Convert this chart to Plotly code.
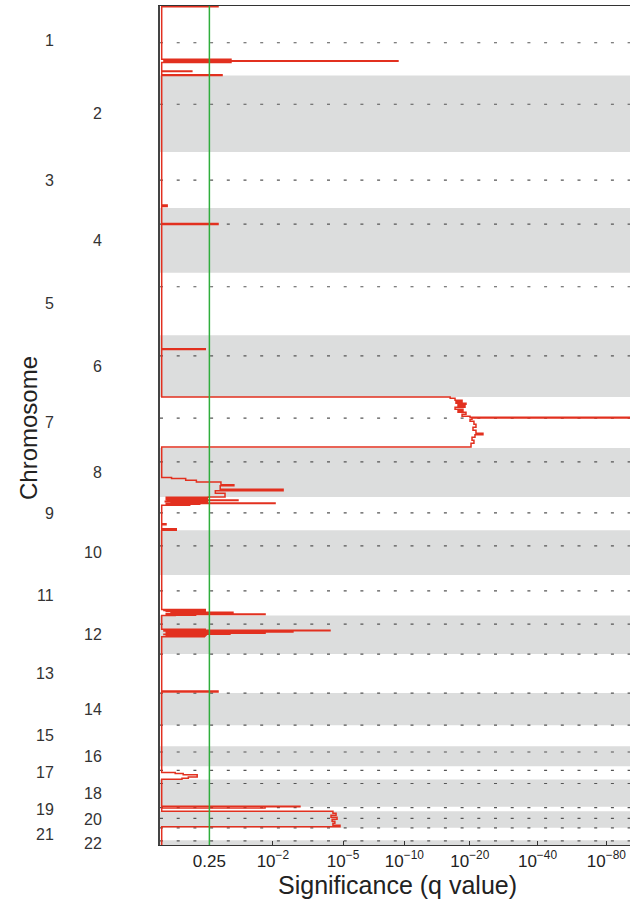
import numpy as np
import plotly.graph_objects as go

# Chromosome layout (Mb along the genome, top to bottom)
chromosomes = [str(i) for i in range(1, 23)]
chrom_length_mb = [238, 263, 192, 222, 214, 212, 175, 168, 114, 154, 139,
                   132, 134, 110, 72, 69, 45, 94, 15, 57, 43, 24]
centromere_mb = [126, 99, 96, 55, 48, 71, 73, 48, 55, 54, 54,
                 29, 0, 0, 0, 20, 14, 14, 3, 25, 0, 2]

# Significant regions per chromosome: (start Mb, end Mb, q value)
chr1_segments = [(0, 2.4, 0.18), (183, 185, 0.104), (185, 186.5, 0.95),
                 (186.5, 188, 0.104), (188, 189.5, 4.7e-10), (189.5, 191, 0.104),
                 (191, 192.5, 0.95), (192.5, 194, 0.104),
                 (223, 224.5, 0.45), (236, 238, 0.153)]
chr3_segments = [(182, 187, 0.88)]
chr4_segments = [(53.5, 56.5, 0.18)]
chr6_segments = [(46.5, 49.5, 0.29)]
chr7_segments = [(0, 4.5, 5e-17), (4.5, 11.3, 7e-18), (11.3, 16.5, 3.5e-19),
                 (16.5, 21.6, 4.7e-18), (21.6, 25, 5.9e-20), (25, 30.2, 2e-18),
                 (30.2, 35.3, 9.3e-20), (35.3, 42.2, 7e-18), (42.2, 47.3, 2.3e-19),
                 (47.3, 52.5, 2e-18), (52.5, 59.3, 5.9e-20), (59.3, 66.2, 3.5e-19),
                 (66.2, 69.6, 8.9e-21), (69.6, 72.4, 1e-150), (72.4, 76.5, 3.4e-21),
                 (76.5, 83.3, 8.9e-21), (83.3, 93.6, 1.3e-21), (93.6, 104, 4.7e-22),
                 (104, 114.2, 2.1e-21), (114.2, 124.5, 4.7e-22), (124.5, 129.7, 1.2e-23),
                 (129.7, 138.3, 7.8e-22), (138.3, 148.5, 3.4e-21), (148.5, 158.8, 1.3e-21),
                 (158.8, 171.5, 5.5e-21)]
chr8_segments = [(101.5, 105, 0.79), (105, 110.8, 0.54), (110.8, 116.6, 0.39),
                 (116.6, 126.2, 0.16), (126.2, 129.7, 0.091), (129.7, 141.7, 0.165),
                 (141.7, 146.8, 0.0048), (146.8, 155.4, 0.20), (155.4, 168, 0.135)]
chr9_segments = [(0, 1.5, 0.26), (1.5, 3, 0.9), (3, 4.5, 0.29), (4.5, 6, 0.85),
                 (6, 7.5, 0.27), (7.5, 9, 0.9), (9, 10.5, 0.3), (10.5, 12, 0.075),
                 (12, 13.5, 0.88), (13.5, 15, 0.28), (15, 16.5, 0.92), (16.5, 18, 0.27),
                 (18, 19.5, 0.8), (19.5, 21, 0.3), (21, 22.5, 0.0086), (22.5, 24, 0.9),
                 (24, 25.5, 0.35), (25.5, 27, 0.85), (27, 28.5, 0.48),
                 (92, 95.4, 0.905), (109, 114, 0.70)]
chr11_segments = [(118.5, 120, 0.29), (120, 121.5, 0.95), (121.5, 123, 0.29),
                  (123, 124.5, 0.9), (124.5, 126, 0.3), (126, 127.5, 0.8),
                  (127.5, 129, 0.095), (129, 130.5, 0.6), (130.5, 132, 0.20),
                  (132, 133.5, 0.9), (133.5, 135, 0.0167), (135, 136.5, 0.7),
                  (136.5, 138, 0.4), (138, 139, 0.72)]
chr12_segments = [(47.3, 48.8, 0.29), (48.8, 50.3, 0.9), (50.3, 51.8, 5.3e-5),
                  (51.8, 53.3, 0.95), (53.3, 54.8, 0.28), (54.8, 56.3, 0.0022),
                  (56.3, 57.8, 0.9), (57.8, 59.3, 0.29), (59.3, 60.8, 0.0167),
                  (60.8, 62.3, 0.9), (62.3, 63.8, 0.109), (63.8, 65.3, 0.95),
                  (65.3, 66.8, 0.28), (66.8, 68.3, 0.9), (68.3, 69.8, 0.29),
                  (69.8, 71.3, 0.85), (71.3, 72.7, 0.3)]
chr13_segments = [(127, 130.5, 0.18)]
chr17_segments = [(21.6, 25, 0.72), (25, 29.2, 0.58), (29.2, 37, 0.38),
                  (37, 41.2, 0.50), (41.2, 44.6, 0.60)]
chr18_segments = [(92, 94, 1.2e-3)]
chr19_segments = [(0, 4.5, 0.0167)]
chr20_segments = [(0, 6.9, 3.7e-5), (6.9, 13.7, 2.5e-5), (13.7, 20.6, 4.7e-5),
                  (20.6, 27.4, 2.2e-5), (27.4, 34.3, 4.1e-5), (34.3, 41.2, 2.9e-5),
                  (41.2, 48, 3.7e-5), (48, 53.8, 1.5e-5)]

baseline_q = 1.0
threshold_q = 0.25

tick_q = [0.25, 1e-2, 1e-5, 1e-10, 1e-20, 1e-40, 1e-80]
tick_text = ["0.25", "10<sup>\u22122</sup>", "10<sup>\u22125</sup>", "10<sup>\u221210</sup>",
             "10<sup>\u221220</sup>", "10<sup>\u221240</sup>", "10<sup>\u221280</sup>"]

segments = {"1": chr1_segments, "3": chr3_segments, "4": chr4_segments,
            "6": chr6_segments, "7": chr7_segments, "8": chr8_segments,
            "9": chr9_segments, "11": chr11_segments, "12": chr12_segments,
            "13": chr13_segments, "17": chr17_segments, "18": chr18_segments,
            "19": chr19_segments, "20": chr20_segments}


def scale(q):
    """Significance axis: log10(1 + (-log10 q))."""
    q = np.asarray(q, dtype=float)
    return np.log10(1.0 - np.log10(q))


starts = np.concatenate([[0], np.cumsum(chrom_length_mb)[:-1]])
genome_end = 2878  # visible extent of the genome axis (Mb)

# Build the stepped significance profile
qs, ys = [], []
for i, chrom in enumerate(chromosomes):
    start = starts[i]
    length = chrom_length_mb[i]
    pos = 0.0
    for s, e, q in sorted(segments.get(chrom, [])):
        if s > pos:
            qs += [baseline_q, baseline_q]
            ys += [start + pos, start + s]
        qs += [q, q]
        ys += [start + s, start + e]
        pos = e
    if pos < length:
        qs += [baseline_q, baseline_q]
        ys += [start + pos, start + length]

fig = go.Figure()
fig.add_trace(go.Scatter(
    x=scale(qs), y=ys, mode="lines",
    line=dict(color="#e2301f", width=1.5),
    hoverinfo="skip", showlegend=False,
))

shapes = []
# Alternating chromosome bands
for i, chrom in enumerate(chromosomes):
    if (i + 1) % 2 == 0:
        shapes.append(dict(type="rect", xref="paper", yref="y", x0=0, x1=1,
                           y0=starts[i], y1=min(starts[i] + chrom_length_mb[i], genome_end),
                           fillcolor="#dcdddd", line=dict(width=0), layer="below"))
# Centromere markers
for i, chrom in enumerate(chromosomes):
    yc = starts[i] + centromere_mb[i]
    shapes.append(dict(type="line", xref="paper", yref="y", x0=0, x1=1, y0=yc, y1=yc,
                       line=dict(color="#555555", width=1.2, dash="3px,13.7px"),
                       layer="below"))
# Significance threshold
t_thr = float(scale(threshold_q))
shapes.append(dict(type="line", xref="x", yref="paper", x0=t_thr, x1=t_thr, y0=0, y1=1,
                   line=dict(color="#2fae3c", width=1.5), layer="above"))

annotations = []
for i, chrom in enumerate(chromosomes):
    mid = starts[i] + chrom_length_mb[i] / 2
    odd = (i + 1) % 2 == 1
    annotations.append(dict(x=0, xref="paper", y=mid, yref="y", text=chrom,
                            showarrow=False, xanchor="right", yanchor="middle",
                            xshift=-104 if odd else -56,
                            font=dict(size=16, color="#333333")))
annotations.append(dict(x=0, xref="paper", y=0.497, yref="paper", text="Chromosome",
                        showarrow=False, textangle=-90, xanchor="center",
                        yanchor="middle", xshift=-132,
                        font=dict(size=24, color="#222222")))
annotations.append(dict(x=0.506, xref="paper", y=0, yref="paper",
                        text="Significance (q value)", showarrow=False,
                        xanchor="center", yanchor="middle", yshift=-40,
                        font=dict(size=25, color="#222222")))

fig.update_layout(
    width=630, height=900,
    margin=dict(l=160, r=0, t=6, b=55),
    paper_bgcolor="white", plot_bgcolor="white",
    font=dict(family="Liberation Sans, Arial, sans-serif", color="#222222"),
    shapes=shapes, annotations=annotations,
    xaxis=dict(range=[-0.0073, 2.0099], tickmode="array",
               tickvals=scale(tick_q).tolist(), ticktext=tick_text,
               ticks="inside", ticklen=4, tickcolor="#333333", tickwidth=1,
               showline=True, linecolor="#333333", linewidth=1.2, mirror=True,
               showgrid=False, zeroline=False, tickfont=dict(size=17)),
    yaxis=dict(range=[genome_end, 0], showticklabels=False, ticks="",
               showline=True, linecolor="#444444", linewidth=1.5, mirror=False,
               showgrid=False, zeroline=False),
)

fig.write_html("out.html")
